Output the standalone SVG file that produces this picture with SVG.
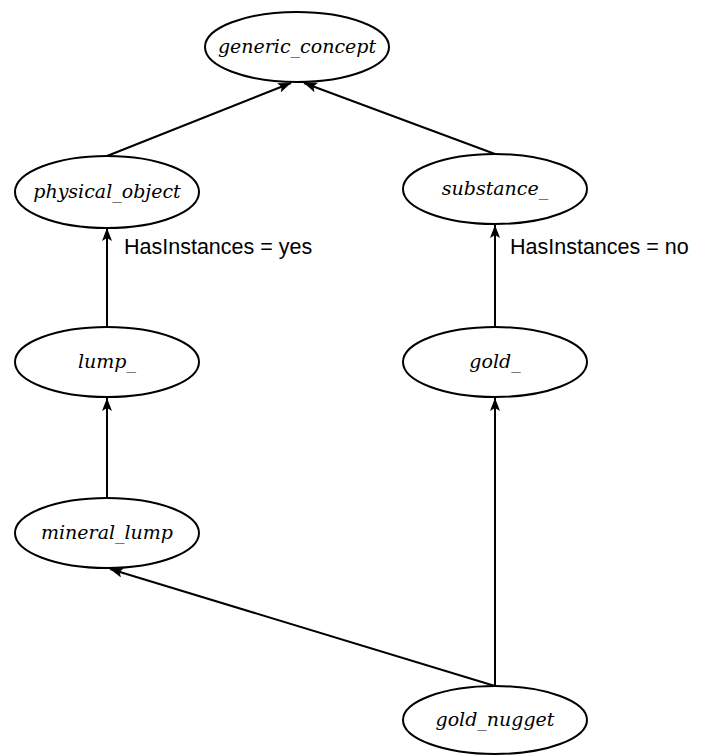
<svg xmlns="http://www.w3.org/2000/svg" width="705" height="756" viewBox="0 0 705 756">
<style>
.node ellipse{fill:#fff;stroke:#000;stroke-width:2}
.node text{font-family:"DejaVu Serif","Liberation Serif",serif;font-style:italic;font-size:19px;text-anchor:middle;fill:#000}
.edge{stroke:#000;stroke-width:2;fill:none;marker-end:url(#arr)}
.lbl{font-family:"Liberation Sans",Arial,sans-serif;font-size:21.5px;fill:#000}
</style>
<defs>
<marker id="arr" viewBox="0 0 13 10" refX="13" refY="5" markerWidth="13" markerHeight="10" markerUnits="userSpaceOnUse" orient="auto">
<path d="M0,0 L13,5 L0,10 L3,5 z" fill="#000"/>
</marker>
</defs>
<g id="connectors">
<line class="edge" x1="107" y1="156" x2="291" y2="83"/>
<line class="edge" x1="495" y1="154" x2="304" y2="83"/>
<line class="edge" x1="107" y1="327" x2="107" y2="228"/>
<line class="edge" x1="495" y1="327" x2="495" y2="225"/>
<line class="edge" x1="107" y1="497" x2="107" y2="398"/>
<line class="edge" x1="495" y1="686" x2="495" y2="398"/>
<line class="edge" x1="495" y1="686" x2="110" y2="569"/>
<text class="lbl" x="124" y="254">HasInstances = yes</text>
<text class="lbl" x="510" y="254">HasInstances = no</text>
</g>
<g id="generic_concept" class="node"><ellipse cx="297" cy="47" rx="92" ry="35"/><text x="297" y="53">generic_concept</text></g>
<g id="physical_object" class="node"><ellipse cx="107" cy="192" rx="92" ry="36"/><text x="107" y="198">physical_object</text></g>
<g id="substance_" class="node"><ellipse cx="495" cy="189" rx="92" ry="35"/><text x="495" y="195">substance_</text></g>
<g id="lump_" class="node"><ellipse cx="107" cy="362" rx="92" ry="35"/><text x="107" y="368">lump_</text></g>
<g id="gold_" class="node"><ellipse cx="495" cy="362" rx="92" ry="35"/><text x="495" y="368">gold_</text></g>
<g id="mineral_lump" class="node"><ellipse cx="107" cy="533" rx="92" ry="35"/><text x="107" y="539">mineral_lump</text></g>
<g id="gold_nugget" class="node"><ellipse cx="495" cy="720" rx="92" ry="34"/><text x="495" y="726">gold_nugget</text></g>
</svg>
